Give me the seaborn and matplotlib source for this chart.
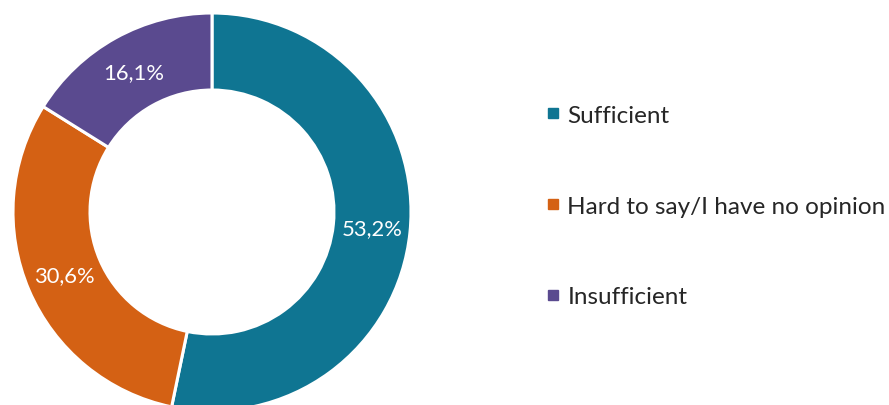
import matplotlib
matplotlib.use("Agg")
import matplotlib.pyplot as plt
from matplotlib.lines import Line2D
import numpy as np
import seaborn as sns

categories = ["Sufficient", "Hard to say/I have no opinion", "Insufficient"]
shares = [53.2, 30.6, 16.1]
colors = ["#0F7592", "#D46114", "#5A4A8F"]

sns.set_theme(style="white")
plt.rcParams["font.family"] = ["Lato", "DejaVu Sans"]

W, H = 889, 406
fig = plt.figure(figsize=(W / 100, H / 100), dpi=100)

# donut: centre (212, 213) px from top-left, outer radius 199 px
cx, cy, R = 212, 213, 199
ax = fig.add_axes([(cx - R) / W, (H - cy - R) / H, 2 * R / W, 2 * R / H])
ring = 0.387
wedges, _ = ax.pie(
    shares,
    colors=colors,
    startangle=90,
    counterclock=False,
    radius=1.0,
    wedgeprops=dict(width=ring, edgecolor="white", linewidth=2.2),
)
for w in wedges:
    w.set_clip_on(False)

# value labels in the middle of the ring
mid_r = 1.0 - ring / 2
start = 90.0
total = sum(shares)
for val in shares:
    span = 360.0 * val / total
    ang = np.deg2rad(start - span / 2)
    ax.text(mid_r * np.cos(ang), mid_r * np.sin(ang),
            f"{val:.1f}".replace(".", ",") + "%",
            ha="center", va="center", color="white", fontsize=15.8)
    start -= span

ax.set_xlim(-1, 1)
ax.set_ylim(-1, 1)
ax.set_aspect("equal")
ax.axis("off")

handles = [Line2D([0], [0], marker="s", linestyle="", markersize=6.5,
                  markerfacecolor=c, markeredgecolor=c) for c in colors]
fig.legend(handles, categories, loc="center left",
           bbox_to_anchor=(546 / W, 1 - 207 / H), frameon=False,
           fontsize=17.5, labelspacing=2.87, handlelength=0.6,
           handletextpad=0.28, borderpad=0, borderaxespad=0)

fig.savefig("out.png", dpi=100)
